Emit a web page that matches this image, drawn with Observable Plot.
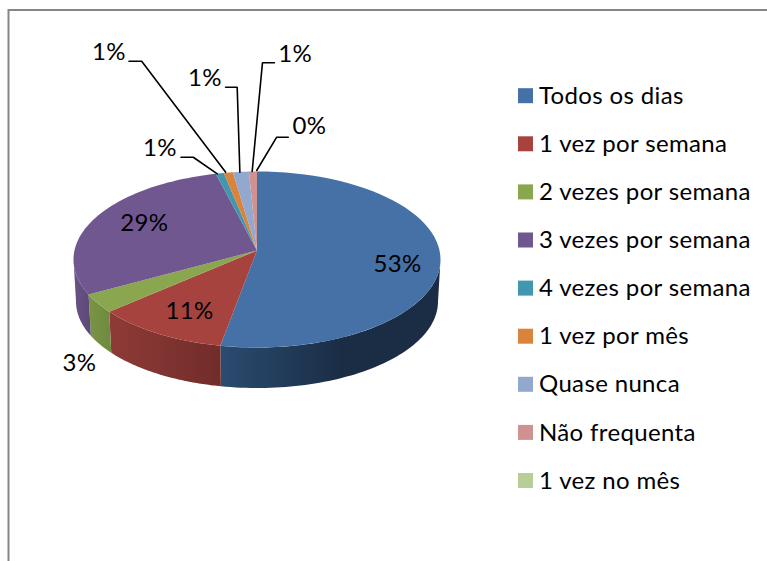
<!DOCTYPE html>
<html>
<head>
<meta charset="utf-8">
<script src="https://cdn.jsdelivr.net/npm/d3@7"></script>
<script src="https://cdn.jsdelivr.net/npm/@observablehq/plot@0.6"></script>
<style>html,body{margin:0;padding:0;background:#fff}svg{display:block}svg text{letter-spacing:.35px}</style>
</head>
<body>
<div id="chart"></div>
<script>
const categories = ["Todos os dias","1 vez por semana","2 vezes por semana","3 vezes por semana","4 vezes por semana","1 vez por mês","Quase nunca","Não frequenta","1 vez no mês"];
const values = [53.2,11.7,3.6,27.9,0.7,0.8,1.4,0.7,0];
const percentLabels = ["53%","11%","3%","29%","1%","1%","1%","1%","0%"];
const topColors = ["#4571A6","#A6433F","#8AA64E","#715790","#4097AF","#DA833C","#93A8CF","#CF9291","#B9CD96"];
const sideFrom = ["#2B4B70","#8E3B37","#7B9446","#6A5386","#368296","#BC7033","#7E90B1","#B27D7C","#9FB081"];
const sideTo   = ["#1A2D45","#712C2A","#6D8A3F","#5C4877","#2B6878","#965A29","#65738E","#8E6463","#7F8D67"];

// layout (pie projection in page units)
const W = 767, H = 561;
const topE = {cx:256.5, cy:259, rx:183.5, ry:88};
const botE = {cx:256.5, cy:301, rx:181, ry:86.5};
const apex = {x:256.5, y:250};
// label and leader offsets relative to each slice's rim midpoint
const labelOffsets = [[-42,-4],[31.3,-22],[-18.4,60.2],[51,4],[-59.8,-24.8],[-119.3,-120.1],[-36,-93.3],[42.2,-117],[52.5,-45]];
const leaderOffsets = [null,null,null,null,
  [[-38.8,-16.1],[-26.5,-16.1],[-2.5,0.5]],
  [[-99.3,-111.4],[-86.6,-111.4],[-2.6,-0.4]],
  [[-15.3,-84.6],[-3.7,-84.6],[-1,0.4]],
  [[21.5,-108.7],[9.5,-108.7],[-0.8,0]],
  [[31.3,-34.3],[19.7,-34.3],[-0.3,-1]]];

const total = d3.sum(values);
const rim = (e, t) => ({x: e.cx + e.rx*Math.sin(t), y: e.cy - e.ry*Math.cos(t)});
let cum = 0;
const slices = values.map((v,i) => {
  const a0 = cum/total*2*Math.PI; cum += v;
  const a1 = cum/total*2*Math.PI;
  return {i, name:categories[i], a0, a1, mid:(a0+a1)/2, anchor:rim(topE,(a0+a1)/2)};
});
const arcPts = (e,a0,a1) => d3.range(0,65).map(k => rim(e, a0+(a1-a0)*k/64));

// top face polygons
const topFaces = slices.filter(s => s.a1>s.a0).flatMap(s =>
  [apex, ...arcPts(topE,s.a0,s.a1)].map(p => ({...p, name:s.name, color:topColors[s.i]})));

// visible wall polygons (front half of the pie)
const walls = slices.map(s => {
  const a0 = Math.max(s.a0, Math.PI/2), a1 = Math.min(s.a1, 3*Math.PI/2);
  if (a1 <= a0) return null;
  return {i:s.i, pts:[...arcPts(topE,a0,a1), ...arcPts(botE,a0,a1).reverse()]};
}).filter(Boolean);

const defs = () => {
  const svg = d3.create("svg:defs");
  walls.forEach(w => {
    const g = svg.append("linearGradient").attr("id","wall"+w.i).attr("x1",w.i===0?0:1).attr("x2",w.i===0?1:0).attr("y1",0).attr("y2",0);
    if (w.i===0) {
      g.append("stop").attr("offset","0").attr("stop-color",sideFrom[0]);
      g.append("stop").attr("offset","0.55").attr("stop-color",sideTo[0]);
      g.append("stop").attr("offset","1").attr("stop-color",sideTo[0]);
    } else {
      g.append("stop").attr("offset","0").attr("stop-color",sideTo[w.i]);
      g.append("stop").attr("offset","1").attr("stop-color",sideFrom[w.i]);
    }
  });
  return svg.node();
};

// text tables
const labels = slices.map(s => ({
  text:percentLabels[s.i],
  x:s.anchor.x+labelOffsets[s.i][0],
  y:s.anchor.y+labelOffsets[s.i][1]}));
const leaders = slices.flatMap(s => leaderOffsets[s.i] ? leaderOffsets[s.i].map(o => ({
  name:s.name, x:s.anchor.x+o[0], y:s.anchor.y+o[1]})) : []);

const legendX = 518, legendTop = 95.7, legendStep = 48.1, swatch = 15;
const legend = categories.map((name,i) => ({name, color:topColors[i], y:legendTop+i*legendStep}));

const font = "Lato, 'Open Sans', sans-serif";
const plot = Plot.plot({
  width:W, height:H, margin:0,
  x:{domain:[0,W], range:[0,W], axis:null},
  y:{domain:[0,H], range:[0,H], axis:null},
  color:{type:"identity"},
  marks:[
    defs,
    Plot.frame({stroke:"#868686", strokeWidth:2, insetLeft:8, insetTop:9.5, insetRight:-10, insetBottom:-10}),
    ...walls.map(w => Plot.line(w.pts,{x:"x",y:"y",fill:`url(#wall${w.i})`,stroke:"none"})),
    Plot.line(topFaces,{x:"x",y:"y",z:"name",fill:"color",stroke:"none"}),
    Plot.line(leaders,{x:"x",y:"y",z:"name",stroke:"#000",strokeWidth:1.6,strokeLinejoin:"miter"}),
    Plot.text(labels,{x:"x",y:"y",text:"text",fontSize:24,fontFamily:font,fill:"#000",textAnchor:"middle",lineAnchor:"middle"}),
    Plot.rect(legend,{x1:()=>legendX,x2:()=>legendX+swatch,y1:d=>d.y-swatch/2,y2:d=>d.y+swatch/2,fill:"color"}),
    Plot.text(legend,{x:()=>legendX+20.5,y:"y",text:"name",fontSize:24,fontFamily:font,fill:"#000",textAnchor:"start",lineAnchor:"middle"})
  ]
});
document.getElementById("chart").append(plot);
</script>
</body>
</html>
